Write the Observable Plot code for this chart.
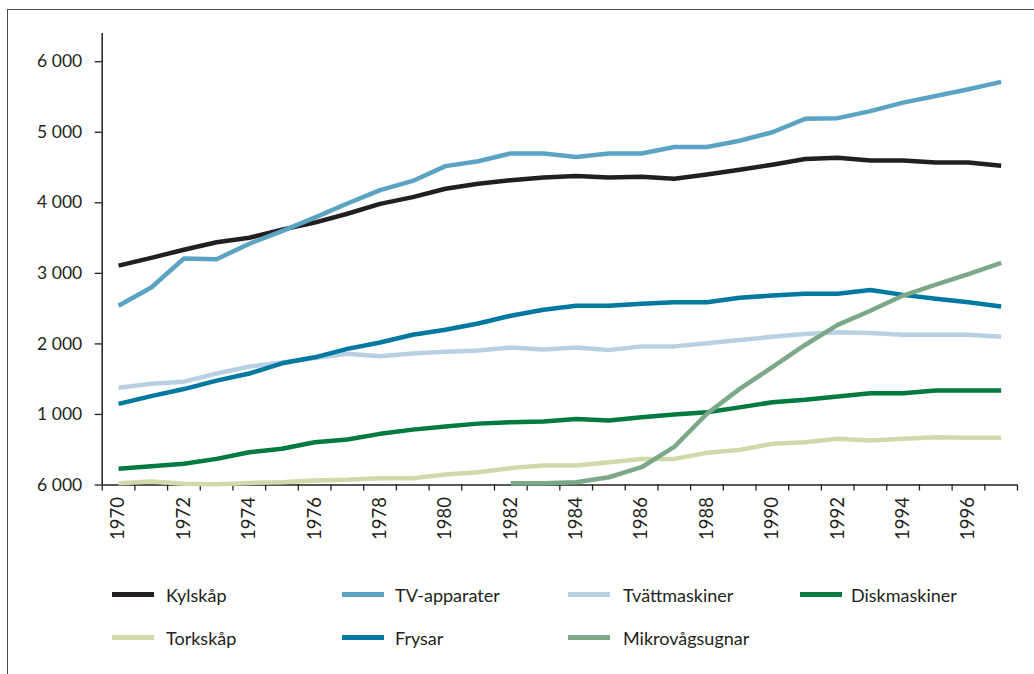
<!DOCTYPE html>
<html>
<head>
<meta charset="utf-8">
<script src="https://cdn.jsdelivr.net/npm/d3@7"></script>
<script src="https://cdn.jsdelivr.net/npm/@observablehq/plot@0.6"></script>
<style>
  html, body { margin: 0; padding: 0; background: #fff; }
  #wrap { position: relative; width: 1034px; height: 674px; overflow: hidden; font-family: Lato, "Open Sans", sans-serif; color: #231f20; }
  #frame { position: absolute; left: 7px; top: 9px; width: 1040px; height: 680px; border-top: 1.5px solid #4a4a4a; border-left: 1.5px solid #4a4a4a; }
  #chart { position: absolute; left: 0; top: 0; }
  .lg { position: absolute; display: flex; align-items: center; font-size: 18px; }
  .sw { position: absolute; height: 4.5px; width: 42px; }
</style>
</head>
<body>
<div id="wrap">
  <div id="frame"></div>
  <div id="chart"></div>
  <div id="legend"></div>
</div>
<script>
const years = d3.range(1970, 1998);
const kylskap      = [3110, 3220, 3335, 3440, 3505, 3620, 3720, 3845, 3985, 4080, 4200, 4270, 4320, 4360, 4380, 4360, 4370, 4340, 4400, 4470, 4540, 4620, 4640, 4600, 4600, 4570, 4570, 4525];
const tvApparater  = [2540, 2800, 3210, 3200, 3420, 3600, 3790, 3990, 4180, 4310, 4520, 4590, 4700, 4700, 4650, 4700, 4700, 4790, 4790, 4880, 5000, 5190, 5200, 5300, 5420, 5515, 5610, 5715];
const tvattmaskiner= [1380, 1435, 1465, 1580, 1680, 1735, 1800, 1860, 1825, 1865, 1890, 1905, 1950, 1920, 1950, 1915, 1965, 1965, 2010, 2055, 2100, 2140, 2165, 2155, 2130, 2130, 2130, 2100];
const diskmaskiner = [230, 265, 300, 370, 465, 513, 605, 645, 725, 785, 830, 870, 890, 900, 937, 913, 960, 1000, 1030, 1100, 1173, 1207, 1253, 1300, 1300, 1340, 1340, 1340];
const torkskap     = [25, 50, 17, 10, 30, 40, 64, 74, 97, 97, 150, 180, 240, 276, 276, 323, 370, 370, 456, 498, 583, 606, 654, 630, 654, 677, 670, 670];
const frysar       = [1150, 1260, 1360, 1480, 1580, 1725, 1810, 1930, 2020, 2130, 2200, 2290, 2400, 2485, 2540, 2540, 2570, 2590, 2590, 2655, 2685, 2710, 2710, 2765, 2695, 2640, 2590, 2530];
const mikroYears   = d3.range(1982, 1998);
const mikrovagsugnar = [25, 25, 40, 110, 252, 540, 1010, 1362, 1670, 1985, 2270, 2470, 2685, 2840, 2990, 3147];

const yTickValues = [0, 1000, 2000, 3000, 4000, 5000, 6000];
const yTickLabels = ["6 000", "1 000", "2 000", "3 000", "4 000", "5 000", "6 000"];
const xLabelYears = d3.range(1970, 1998, 2);

const seriesNames  = ["Kylskåp", "TV-apparater", "Tvättmaskiner", "Diskmaskiner", "Torkskåp", "Frysar", "Mikrovågsugnar"];
const seriesColors = ["#231f20", "#5ba3c3", "#b7d1e3", "#007a3e", "#cfd9aa", "#0079a0", "#7ba886"];
const drawOrder = ["Torkskåp", "Tvättmaskiner", "Diskmaskiner", "Frysar", "Kylskåp", "TV-apparater", "Mikrovågsugnar"];

const seriesData = {
  "Kylskåp": years.map((y, i) => ({year: y, value: kylskap[i]})),
  "TV-apparater": years.map((y, i) => ({year: y, value: tvApparater[i]})),
  "Tvättmaskiner": years.map((y, i) => ({year: y, value: tvattmaskiner[i]})),
  "Diskmaskiner": years.map((y, i) => ({year: y, value: diskmaskiner[i]})),
  "Torkskåp": years.map((y, i) => ({year: y, value: torkskap[i]})),
  "Frysar": years.map((y, i) => ({year: y, value: frysar[i]})),
  "Mikrovågsugnar": mikroYears.map((y, i) => ({year: y, value: mikrovagsugnar[i]}))
};
const colorOf = Object.fromEntries(seriesNames.map((n, i) => [n, seriesColors[i]]));

const boundaries = d3.range(1969.5, 1998, 1);

const chart = Plot.plot({
  width: 1034,
  height: 545,
  marginLeft: 101.7,
  marginRight: 17,
  marginTop: 33,
  marginBottom: 60.5,
  style: {fontFamily: "Lato, 'Open Sans', sans-serif", color: "#231f20", background: "transparent", overflow: "visible"},
  x: {type: "linear", domain: [1969.5, 1997.5]},
  y: {domain: [0, 6400]},
  marks: [
    Plot.axisY({ticks: yTickValues, tickSize: 7, tickPadding: 13, fontSize: 17.5, tickFormat: (d) => yTickLabels[yTickValues.indexOf(d)], label: null, stroke: "#231f20", strokeWidth: 1.3}),
    Plot.axisX({ticks: boundaries, tickSize: 6, tickFormat: () => "", label: null, stroke: "#231f20", strokeWidth: 1.3}),
    Plot.axisX({ticks: xLabelYears, tickSize: 0, tickPadding: 12, tickRotate: -90, fontSize: 18.5, tickFormat: (d) => String(d), label: null}),
    Plot.ruleX([1969.5], {y1: 0, y2: 6400, stroke: "#231f20", strokeWidth: 1.5}),
    Plot.ruleY([0], {stroke: "#231f20", strokeWidth: 1.5}),
    ...drawOrder.map(name => Plot.line(seriesData[name], {x: "year", y: "value", stroke: colorOf[name], strokeWidth: 4.5, strokeLinejoin: "round", strokeLinecap: "butt"}))
  ]
});
document.getElementById("chart").appendChild(chart);

// Legend (HTML, below the SVG plotting area)
const legendPos = [
  {name: "Kylskåp", sx: 112, tx: 166, y: 595},
  {name: "TV-apparater", sx: 342, tx: 395, y: 595},
  {name: "Tvättmaskiner", sx: 568, tx: 623, y: 595},
  {name: "Diskmaskiner", sx: 800, tx: 851, y: 595},
  {name: "Torkskåp", sx: 112, tx: 166, y: 638},
  {name: "Frysar", sx: 342, tx: 395, y: 638},
  {name: "Mikrovågsugnar", sx: 568, tx: 623, y: 638}
];
const legend = document.getElementById("legend");
legendPos.forEach(p => {
  const sw = document.createElement("div");
  sw.className = "sw";
  sw.style.left = p.sx + "px";
  sw.style.top = (p.y - 3) + "px";
  sw.style.background = colorOf[p.name];
  legend.appendChild(sw);
  const t = document.createElement("div");
  t.className = "lg";
  t.style.left = p.tx + "px";
  t.style.top = (p.y - 11) + "px";
  t.style.lineHeight = "22px";
  t.textContent = p.name;
  legend.appendChild(t);
});
</script>
</body>
</html>
